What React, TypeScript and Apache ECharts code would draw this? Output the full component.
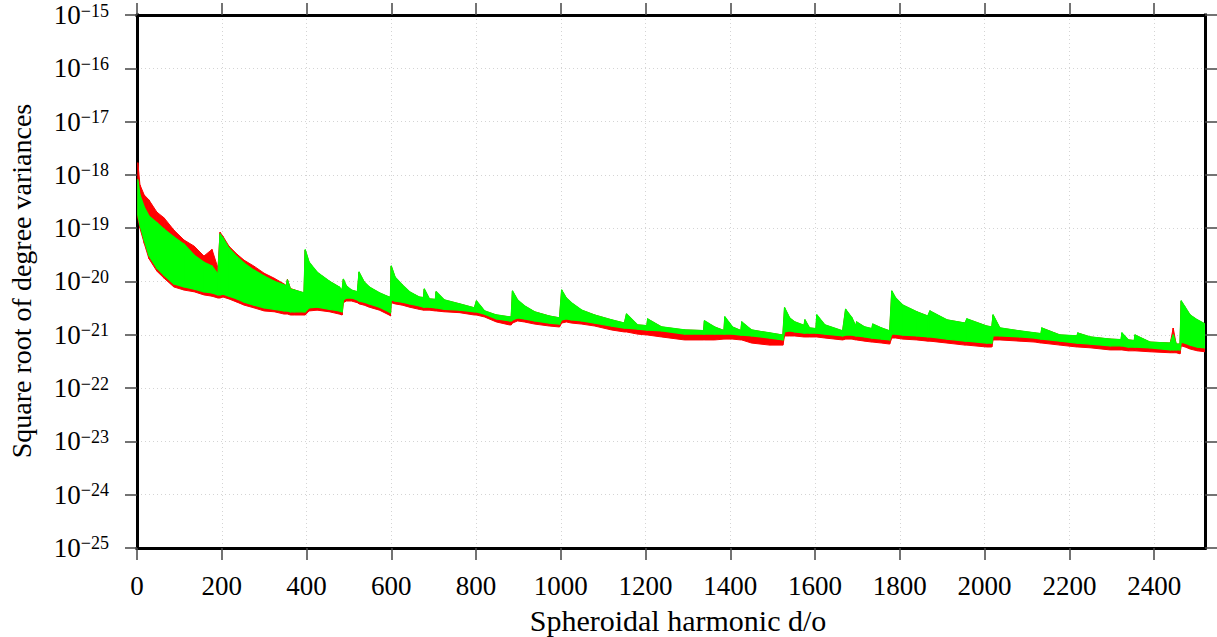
import React, { useEffect, useRef } from "react";
import * as echarts from "echarts";

// Spheroidal harmonic degree/order (x) sampled along the envelopes
const degree = [
  2, 7, 17, 28, 47, 64, 87, 111, 135, 158, 177, 191, 196, 203, 217, 236, 253, 276, 300, 324,
  347, 352, 355, 362, 371, 394, 397, 406, 425, 454, 477, 484, 487, 494, 506, 520, 524, 536, 548, 572,
  595, 598, 600, 609, 626, 643, 666, 676, 678, 690, 704, 706, 725, 761, 796, 801, 820, 848, 879, 883,
  886, 898, 914, 938, 973, 997, 1002, 1013, 1025, 1049, 1080, 1120, 1150, 1155, 1181, 1203, 1205, 1238, 1292, 1337,
  1339, 1363, 1385, 1387, 1405, 1425, 1427, 1450, 1493, 1524, 1528, 1540, 1552, 1574, 1576, 1587, 1602, 1604, 1623, 1665,
  1672, 1687, 1696, 1698, 1717, 1734, 1736, 1757, 1776, 1781, 1790, 1807, 1840, 1866, 1871, 1911, 1954, 1958, 2005, 2017,
  2020, 2036, 2083, 2119, 2133, 2135, 2178, 2218, 2220, 2249, 2296, 2322, 2324, 2339, 2353, 2355, 2390, 2438, 2445, 2452,
  2461, 2464, 2473, 2485, 2502, 2520,
];

// Green series: upper and lower envelope of its oscillation
const greenUpper = [
  8.1e-19, 4.2e-19, 2.5e-19, 1.7e-19, 1.26e-19, 9.6e-20, 6.8e-20, 5.0e-20, 3.1e-20, 2.3e-20, 1.94e-20, 1.37e-20, 7.7e-20, 6.5e-20, 4.2e-20, 2.9e-20, 2.2e-20, 1.63e-20, 1.26e-20, 1.01e-20,
  8.6e-21, 8.2e-21, 1.06e-20, 7.2e-21, 6.9e-21, 6.1e-21, 3.9e-20, 2.3e-20, 1.49e-20, 1.01e-20, 7.9e-21, 6.9e-21, 1.1e-20, 8.2e-21, 6.9e-21, 6.4e-21, 1.49e-20, 9.8e-21, 7.9e-21, 6.1e-21,
  5.1e-21, 5.1e-21, 1.94e-20, 1.2e-20, 8.6e-21, 6.4e-21, 5.1e-21, 5.0e-21, 7.2e-21, 4.7e-21, 4.6e-21, 6.4e-21, 4.5e-21, 3.8e-21, 3.2e-21, 4.3e-21, 2.8e-21, 2.35e-21, 2.16e-21, 2.16e-21,
  6.6e-21, 4.5e-21, 3.5e-21, 2.7e-21, 2.25e-21, 2.07e-21, 6.9e-21, 4.9e-21, 4.0e-21, 2.9e-21, 2.35e-21, 1.9e-21, 1.66e-21, 2.45e-21, 1.53e-21, 1.48e-21, 1.98e-21, 1.4e-21, 1.23e-21, 1.2e-21,
  1.82e-21, 1.4e-21, 1.2e-21, 2.16e-21, 1.4e-21, 1.2e-21, 1.74e-21, 1.23e-21, 1.08e-21, 9.9e-22, 3.2e-21, 2.07e-21, 1.74e-21, 1.5e-21, 1.9e-21, 1.34e-21, 1.3e-21, 2.35e-21, 1.53e-21, 1.18e-21,
  3.0e-21, 2.07e-21, 1.45e-21, 1.74e-21, 1.4e-21, 1.3e-21, 1.59e-21, 1.34e-21, 1.18e-21, 6.6e-21, 4.9e-21, 3.6e-21, 2.7e-21, 2.25e-21, 2.8e-21, 1.9e-21, 1.66e-21, 1.98e-21, 1.46e-21, 1.4e-21,
  2.35e-21, 1.34e-21, 1.18e-21, 1.08e-21, 1.05e-21, 1.34e-21, 9.9e-22, 9.5e-22, 1.08e-21, 9.1e-22, 8.3e-22, 8.1e-22, 1.08e-21, 8.0e-22, 7.8e-22, 9.9e-22, 7.3e-22, 7.0e-22, 9.9e-22, 6.7e-22,
  6.7e-22, 4.3e-21, 3.3e-21, 2.35e-21, 1.9e-21, 1.59e-21,
];
const greenLower = [
  1.78e-19, 1.15e-19, 6.0e-20, 3.1e-20, 1.78e-20, 1.31e-20, 9.0e-21, 7.9e-21, 7.2e-21, 6.4e-21, 6.1e-21, 5.6e-21, 5.6e-21, 5.8e-21, 5.3e-21, 4.7e-21, 4.1e-21, 3.6e-21, 3.2e-21, 3.0e-21,
  2.8e-21, 2.8e-21, 2.8e-21, 2.7e-21, 2.7e-21, 2.7e-21, 2.7e-21, 3.2e-21, 3.3e-21, 3.0e-21, 2.8e-21, 2.7e-21, 4.5e-21, 4.9e-21, 4.9e-21, 4.5e-21, 4.3e-21, 4.1e-21, 3.8e-21, 3.3e-21,
  2.7e-21, 2.6e-21, 4.5e-21, 4.3e-21, 4.1e-21, 3.8e-21, 3.5e-21, 3.3e-21, 3.3e-21, 3.3e-21, 3.2e-21, 3.2e-21, 3.0e-21, 2.9e-21, 2.7e-21, 2.7e-21, 2.45e-21, 1.98e-21, 1.82e-21, 1.82e-21,
  1.9e-21, 2.07e-21, 1.98e-21, 1.82e-21, 1.66e-21, 1.59e-21, 1.9e-21, 1.98e-21, 1.9e-21, 1.82e-21, 1.66e-21, 1.46e-21, 1.34e-21, 1.34e-21, 1.28e-21, 1.23e-21, 1.23e-21, 1.18e-21, 1.03e-21, 1.03e-21,
  1.03e-21, 1.03e-21, 1.03e-21, 1.03e-21, 1.03e-21, 9.9e-22, 9.9e-22, 9.5e-22, 8.7e-22, 8.0e-22, 1.13e-21, 1.18e-21, 1.13e-21, 1.08e-21, 1.08e-21, 1.08e-21, 1.08e-21, 1.08e-21, 1.03e-21, 9.5e-22,
  9.9e-22, 9.9e-22, 9.5e-22, 9.5e-22, 9.1e-22, 8.7e-22, 8.7e-22, 8.3e-22, 8.0e-22, 1.03e-21, 1.03e-21, 9.9e-22, 9.5e-22, 9.1e-22, 9.1e-22, 8.3e-22, 7.6e-22, 7.6e-22, 7.0e-22, 7.0e-22,
  9.5e-22, 9.5e-22, 9.1e-22, 8.7e-22, 8.3e-22, 8.3e-22, 7.6e-22, 7.0e-22, 7.0e-22, 6.7e-22, 6.2e-22, 6.2e-22, 6.2e-22, 5.9e-22, 5.9e-22, 5.9e-22, 5.7e-22, 5.2e-22, 5.2e-22, 5.2e-22,
  5.2e-22, 7.3e-22, 7.0e-22, 6.4e-22, 5.9e-22, 5.7e-22,
];

// Red series: upper and lower envelope of its oscillation
const redUpper = [
  1.7e-18, 6.5e-19, 4.2e-19, 3.4e-19, 2.0e-19, 1.56e-19, 9.2e-20, 6.0e-20, 4.6e-20, 3.0e-20, 4.0e-20, 1.78e-20, 8.4e-20, 7.0e-20, 4.6e-20, 3.25e-20, 2.5e-20, 1.94e-20, 1.43e-20, 1.15e-20,
  9.0e-21, 8.4e-21, 1.1e-20, 7.4e-21, 7.0e-21, 6.1e-21, 3.9e-20, 2.3e-20, 1.49e-20, 1.01e-20, 7.9e-21, 6.9e-21, 1.1e-20, 8.2e-21, 6.9e-21, 6.4e-21, 1.49e-20, 9.8e-21, 7.9e-21, 6.1e-21,
  5.1e-21, 5.1e-21, 1.94e-20, 1.2e-20, 8.6e-21, 6.4e-21, 5.1e-21, 5.0e-21, 7.2e-21, 4.7e-21, 4.6e-21, 6.4e-21, 4.5e-21, 3.8e-21, 3.2e-21, 4.3e-21, 2.8e-21, 2.35e-21, 2.16e-21, 2.16e-21,
  6.6e-21, 4.5e-21, 3.5e-21, 2.7e-21, 2.25e-21, 2.07e-21, 6.9e-21, 4.9e-21, 4.0e-21, 2.9e-21, 2.35e-21, 1.9e-21, 1.66e-21, 2.45e-21, 1.53e-21, 1.48e-21, 1.98e-21, 1.4e-21, 1.23e-21, 1.2e-21,
  1.82e-21, 1.4e-21, 1.2e-21, 2.16e-21, 1.4e-21, 1.2e-21, 1.74e-21, 1.23e-21, 1.08e-21, 9.9e-22, 3.2e-21, 2.07e-21, 1.74e-21, 1.5e-21, 1.9e-21, 1.34e-21, 1.3e-21, 2.35e-21, 1.53e-21, 1.18e-21,
  3.0e-21, 2.07e-21, 1.45e-21, 1.74e-21, 1.4e-21, 1.3e-21, 1.59e-21, 1.34e-21, 1.18e-21, 6.6e-21, 4.9e-21, 3.6e-21, 2.7e-21, 2.25e-21, 2.8e-21, 1.9e-21, 1.66e-21, 1.98e-21, 1.46e-21, 1.4e-21,
  2.35e-21, 1.34e-21, 1.18e-21, 1.08e-21, 1.05e-21, 1.34e-21, 9.9e-22, 9.5e-22, 1.08e-21, 9.1e-22, 8.3e-22, 8.1e-22, 1.08e-21, 8.0e-22, 7.8e-22, 9.9e-22, 7.3e-22, 7.0e-22, 1.34e-21, 6.7e-22,
  6.7e-22, 4.3e-21, 3.3e-21, 2.35e-21, 1.9e-21, 1.59e-21,
];
const redLower = [
  1.56e-19, 1.0e-19, 5.2e-20, 2.7e-20, 1.56e-20, 1.15e-20, 7.9e-21, 6.9e-21, 6.4e-21, 5.6e-21, 5.3e-21, 4.9e-21, 4.9e-21, 5.1e-21, 4.7e-21, 4.1e-21, 3.6e-21, 3.2e-21, 2.8e-21, 2.7e-21,
  2.45e-21, 2.45e-21, 2.45e-21, 2.35e-21, 2.35e-21, 2.35e-21, 2.35e-21, 2.8e-21, 2.9e-21, 2.7e-21, 2.45e-21, 2.35e-21, 4.0e-21, 4.3e-21, 4.3e-21, 4.0e-21, 3.8e-21, 3.6e-21, 3.3e-21, 2.9e-21,
  2.35e-21, 2.25e-21, 4.0e-21, 3.8e-21, 3.6e-21, 3.3e-21, 3.0e-21, 2.9e-21, 2.9e-21, 2.9e-21, 2.8e-21, 2.8e-21, 2.7e-21, 2.6e-21, 2.35e-21, 2.35e-21, 2.16e-21, 1.74e-21, 1.53e-21, 1.53e-21,
  1.66e-21, 1.82e-21, 1.74e-21, 1.59e-21, 1.46e-21, 1.4e-21, 1.66e-21, 1.74e-21, 1.66e-21, 1.59e-21, 1.46e-21, 1.23e-21, 1.13e-21, 1.13e-21, 1.03e-21, 9.9e-22, 9.9e-22, 9.1e-22, 8.0e-22, 8.0e-22,
  8.0e-22, 8.0e-22, 8.3e-22, 8.3e-22, 8.3e-22, 8.0e-22, 8.0e-22, 7.0e-22, 6.4e-22, 6.4e-22, 9.5e-22, 9.5e-22, 9.5e-22, 9.1e-22, 9.1e-22, 9.1e-22, 9.1e-22, 9.1e-22, 8.7e-22, 8.0e-22,
  8.3e-22, 8.3e-22, 8.0e-22, 8.0e-22, 7.6e-22, 7.3e-22, 7.3e-22, 7.0e-22, 6.7e-22, 8.7e-22, 8.7e-22, 8.3e-22, 8.0e-22, 7.6e-22, 7.6e-22, 7.0e-22, 6.4e-22, 6.4e-22, 5.9e-22, 5.9e-22,
  8.0e-22, 8.0e-22, 7.6e-22, 7.3e-22, 7.0e-22, 7.0e-22, 6.4e-22, 5.9e-22, 5.9e-22, 5.7e-22, 5.2e-22, 5.2e-22, 5.2e-22, 5.0e-22, 5.0e-22, 5.0e-22, 4.8e-22, 4.6e-22, 4.6e-22, 4.6e-22,
  4.4e-22, 6.2e-22, 5.9e-22, 5.4e-22, 5.0e-22, 4.8e-22,
];

// Axis ticks
const xTickValues = [0, 200, 400, 600, 800, 1000, 1200, 1400, 1600, 1800, 2000, 2200, 2400];
const yTickValues = [1e-25, 1e-24, 1e-23, 1e-22, 1e-21, 1e-20, 1e-19, 1e-18, 1e-17, 1e-16, 1e-15];
const xMin = 0;
const xMax = 2520;
const yMin = 9.99e-26;
const yMax = 1e-15;

const xTitle = "Spheroidal harmonic d/o";
const yTitle = "Square root of degree variances";

const FONT = '"Liberation Serif", "Times New Roman", Times, serif';

function bandSeries(name: string, lo: number[], hi: number[], color: string, lw: number) {
  const data: number[][] = [];
  for (let i = 0; i < degree.length - 1; i++) {
    data.push([degree[i], lo[i], hi[i], degree[i + 1], lo[i + 1], hi[i + 1]]);
  }
  return {
    type: "custom",
    name,
    data,
    dimensions: ["x0", "lo0", "hi0", "x1", "lo1", "hi1"],
    encode: { x: [0, 3], y: [1, 2, 4, 5] },
    clip: true,
    silent: true,
    renderItem: (_params: any, api: any) => {
      const a = api.coord([api.value(0), api.value(2)]);
      const b = api.coord([api.value(3), api.value(5)]);
      const c = api.coord([api.value(3), api.value(4)]);
      const d = api.coord([api.value(0), api.value(1)]);
      return {
        type: "polygon",
        shape: { points: [a, b, c, d] },
        style: { fill: color, stroke: color, lineWidth: lw, lineJoin: "round" },
      };
    },
  };
}

const frameLine = { show: true, onZero: false, lineStyle: { color: "#000", width: 3, cap: "square" } };
const outTick = { show: true, inside: false, length: 12, lineStyle: { color: "#444", width: 1.5 } };

const yLabel = (v: number) => {
  if (!(v > 0)) return "";
  const e = Math.round(Math.log10(v));
  if (Math.abs(Math.log10(v) - e) > 0.01) return "";
  return `{b|10}{s|\u2212${Math.abs(e)}}`;
};

export default function App() {
  const ref = useRef<HTMLDivElement>(null);
  useEffect(() => {
    if (!ref.current) return;
    const chart = echarts.init(ref.current, undefined, { renderer: "svg", width: 1217, height: 637 });
    chart.setOption({
      animation: false,
      backgroundColor: "#fff",
      textStyle: { fontFamily: FONT },
      grid: { left: 137, right: 12, top: 15, bottom: 89, containLabel: false, outerBoundsMode: "none" },
      graphic: [
        {
          type: "text",
          x: 21,
          y: 281,
          rotation: Math.PI / 2,
          style: {
            text: yTitle,
            fontFamily: FONT,
            fontSize: 28,
            fill: "#000",
            align: "center",
            verticalAlign: "middle",
          },
        },
      ],
      xAxis: [
        {
          type: "value",
          min: xMin,
          max: xMax,
          interval: 200,
          position: "bottom",
          name: xTitle,
          nameLocation: "middle",
          nameGap: 57,
          nameTextStyle: { fontFamily: FONT, fontSize: 30, color: "#000", padding: [0, 0, 0, 14] },
          axisLine: frameLine,
          axisTick: { ...outTick, customValues: xTickValues },
          axisLabel: {
            customValues: xTickValues,
            fontFamily: FONT,
            fontSize: 27,
            color: "#000",
            margin: 24,
            formatter: (v: number) => String(v),
          },
          splitLine: { show: true, lineStyle: { color: "#d4d4d4", width: 1, type: [1, 3] } },
        },
        {
          type: "value",
          min: xMin,
          max: xMax,
          interval: 200,
          position: "top",
          axisLine: frameLine,
          axisTick: { ...outTick, customValues: xTickValues },
          axisLabel: { show: false },
          splitLine: { show: false },
        },
      ],
      yAxis: [
        {
          type: "log",
          logBase: 10,
          min: yMin,
          max: yMax,
          interval: 1,
          position: "left",
          axisLine: frameLine,
          axisTick: { ...outTick, customValues: yTickValues },
          minorTick: { show: false },
          axisLabel: {
            customValues: yTickValues,
            fontFamily: FONT,
            color: "#000",
            margin: 28,
            formatter: yLabel,
            rich: {
              b: { fontFamily: FONT, fontSize: 27, color: "#000" },
              s: { fontFamily: FONT, fontSize: 18, color: "#000", verticalAlign: "top" },
            },
          },
          splitLine: { show: true, lineStyle: { color: "#d4d4d4", width: 1, type: [1, 3] } },
        },
        {
          type: "log",
          logBase: 10,
          min: yMin,
          max: yMax,
          interval: 1,
          position: "right",
          axisLine: frameLine,
          axisTick: { ...outTick, customValues: yTickValues },
          axisLabel: { show: false },
          splitLine: { show: false },
        },
      ],
      series: [
        bandSeries("red", redLower, redUpper, "#ff0000", 1.0),
        bandSeries("green", greenLower, greenUpper, "#00ff00", 1.3),
      ],
    });
    return () => chart.dispose();
  }, []);
  return (
    <div
      ref={ref}
      style={{ position: "fixed", left: 0, top: 0, width: 1217, height: 637, background: "#fff" }}
    />
  );
}
